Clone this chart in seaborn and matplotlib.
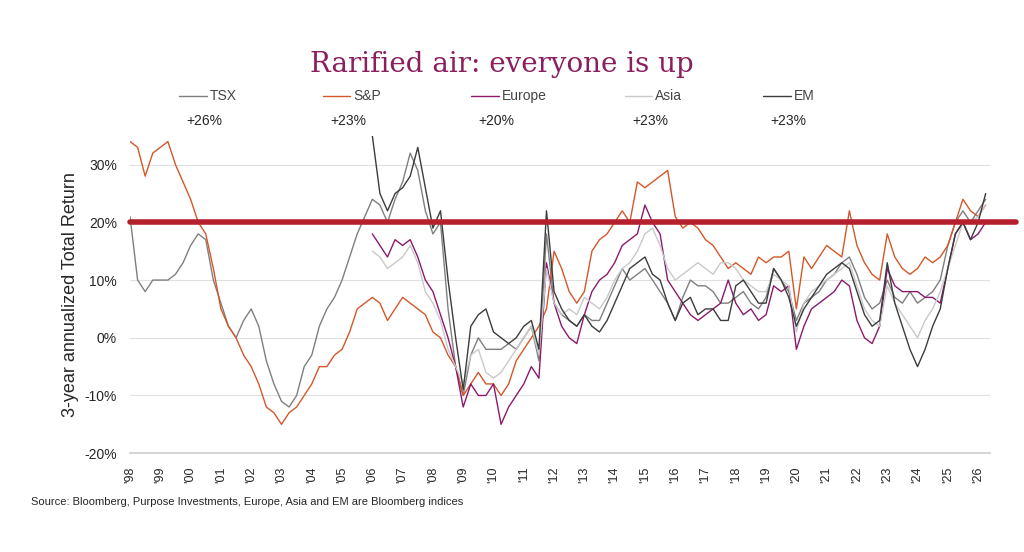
import numpy as np
import pandas as pd
import matplotlib
matplotlib.use("Agg")
import matplotlib.pyplot as plt
import seaborn as sns

sns.set_theme(style="white")
plt.rcParams['font.family'] = ['Liberation Sans', 'DejaVu Sans']

# quarterly readings, 3-year annualized total return (%)
tsx = [21, 10, 8, 10, 10, 10, 11, 13, 16, 18, 17, 10, 6, 2, 0, 3,
       5, 2, -4, -8, -11, -12, -10, -5, -3, 2, 5, 7, 10, 14, 18, 21,
       24, 23, 20, 24, 27, 32, 29, 22, 18, 20, 5, -5, -10, -3, 0, -2,
       -2, -2, -1, -2, 0, 2, -4, 18, 6, 4, 3, 2, 4, 3, 3, 6,
       9, 12, 10, 11, 12, 10, 8, 6, 3, 7, 10, 9, 9, 8, 6, 6,
       7, 8, 6, 5, 7, 12, 10, 8, 3, 6, 7, 8, 10, 11, 13, 14,
       11, 7, 5, 6, 10, 7, 6, 8, 6, 7, 8, 10, 16, 20, 22, 20, 22, 24]
sp = [34, 33, 28, 32, 33, 34, 30, 27, 24, 20, 18, 12, 5, 2, 0, -3,
      -5, -8, -12, -13, -15, -13, -12, -10, -8, -5, -5, -3, -2, 1, 5, 6,
      7, 6, 3, 5, 7, 6, 5, 4, 1, 0, -3, -5, -10, -8, -6, -8,
      -8, -10, -8, -4, -2, 0, 2, 5, 15, 12, 8, 6, 8, 15, 17, 18,
      20, 22, 20, 27, 26, 27, 28, 29, 21, 19, 20, 19, 17, 16, 14, 12,
      13, 12, 11, 14, 13, 14, 14, 15, 5, 14, 12, 14, 16, 15, 14, 22,
      16, 13, 11, 10, 18, 14, 12, 11, 12, 14, 13, 14, 16, 20, 24, 22, 21, 23]
europe = [18, 16, 14, 17, 16, 17, 14, 10, 8, 4, 0, -5, -12, -8, -10, -10,
          -8, -15, -12, -10, -8, -5, -7, 13, 6, 2, 0, -1, 4, 8, 10, 11,
          13, 16, 17, 18, 23, 20, 18, 10, 8, 6, 4, 3, 4, 5, 6, 10,
          6, 4, 5, 3, 4, 9, 8, 9, -2, 2, 5, 6, 7, 8, 10, 9,
          3, 0, -1, 2, 12, 9, 8, 8, 8, 7, 7, 6, 12, 18, 20, 17, 18, 20]
asia = [15, 14, 12, 13, 14, 16, 13, 8, 6, 3, -2, -5, -8, -3, -2, -6,
        -7, -6, -4, -2, 0, 2, -3, 12, 6, 4, 5, 4, 7, 6, 5, 7,
        10, 12, 13, 15, 18, 19, 16, 12, 10, 11, 12, 13, 12, 11, 13, 13,
        12, 10, 9, 8, 8, 11, 10, 9, 1, 6, 8, 9, 10, 11, 12, 13,
        9, 5, 3, 2, 9, 6, 4, 2, 0, 3, 5, 8, 12, 16, 20, 20, 21, 23]
em = [35, 25, 22, 25, 26, 28, 33, 26, 19, 22, 10, 0, -9, 2, 4, 5,
      1, 0, -1, 0, 2, 3, -2, 22, 8, 5, 3, 2, 4, 2, 1, 3,
      6, 9, 12, 13, 14, 11, 10, 6, 3, 6, 7, 4, 5, 5, 3, 3,
      9, 10, 8, 6, 6, 12, 10, 7, 2, 5, 7, 9, 11, 12, 13, 12,
      8, 4, 2, 3, 13, 6, 2, -2, -5, -2, 2, 5, 12, 18, 20, 17, 20, 25]

names = ["TSX", "S&P", "Europe", "Asia", "EM"]
latest = ["+26%", "+23%", "+20%", "+23%", "+23%"]
colors = ["#7f7f7f", "#d4572a", "#8b1a6b", "#c9c9c9", "#3c3c3c"]
year_labels = ["'%02d" % (y % 100) for y in range(1998, 2027)]

frames = []
for name, vals, start in [("TSX", tsx, 1998), ("S&P", sp, 1998), ("Europe", europe, 2006),
                          ("Asia", asia, 2006), ("EM", em, 2006)]:
    t = start + np.arange(len(vals)) / 4
    frames.append(pd.DataFrame({"t": t, "ret": vals, "index": name}))
df = pd.concat(frames)

fig = plt.figure(figsize=(10.24, 5.52), dpi=100)
ax = fig.add_axes([0.127, 0.179, 0.84, 0.575])
sns.lineplot(data=df, x="t", y="ret", hue="index", hue_order=names,
             palette=colors, linewidth=1.0, ax=ax, legend=False)

ax.axhline(20, color="#b5202e", linewidth=4, xmax=1.03, clip_on=False, zorder=5)
ax.set_xlim(1998, 2026.4)
ax.set_ylim(-20, 35)
ax.set_yticks(range(-20, 31, 10))
ax.set_yticklabels(["%d%%" % v for v in range(-20, 31, 10)], fontsize=10)
ax.set_xticks(range(1998, 2027))
ax.set_xticklabels(year_labels, rotation=90, fontsize=9)
ax.yaxis.grid(True, color="#e0e0e0", linewidth=0.8)
ax.set_xlabel("")
ax.set_ylabel("3-year annualized Total Return", fontsize=13)
for s in ["top", "right", "left"]:
    ax.spines[s].set_visible(False)
ax.spines["bottom"].set_color("#d0d0d0")

fig.text(0.49, 0.87, "Rarified air: everyone is up", ha="center", fontsize=20,
         color="#8b1f5e", family="DejaVu Serif")
xs = [0.205, 0.345, 0.49, 0.64, 0.775]
for x, n, p, c in zip(xs, names, latest, colors):
    fig.lines.append(plt.Line2D([x - 0.03, x - 0.003], [0.826, 0.826], color=c,
                                linewidth=1, transform=fig.transFigure))
    fig.text(x, 0.826, n, va="center", fontsize=10, color="#444444")
    fig.text(x - 0.005, 0.78, p, va="center", ha="center", fontsize=10)
fig.text(0.03, 0.085, "Source: Bloomberg, Purpose Investments, Europe, Asia and EM are Bloomberg indices",
         fontsize=8)
fig.savefig("out.png", dpi=100)
